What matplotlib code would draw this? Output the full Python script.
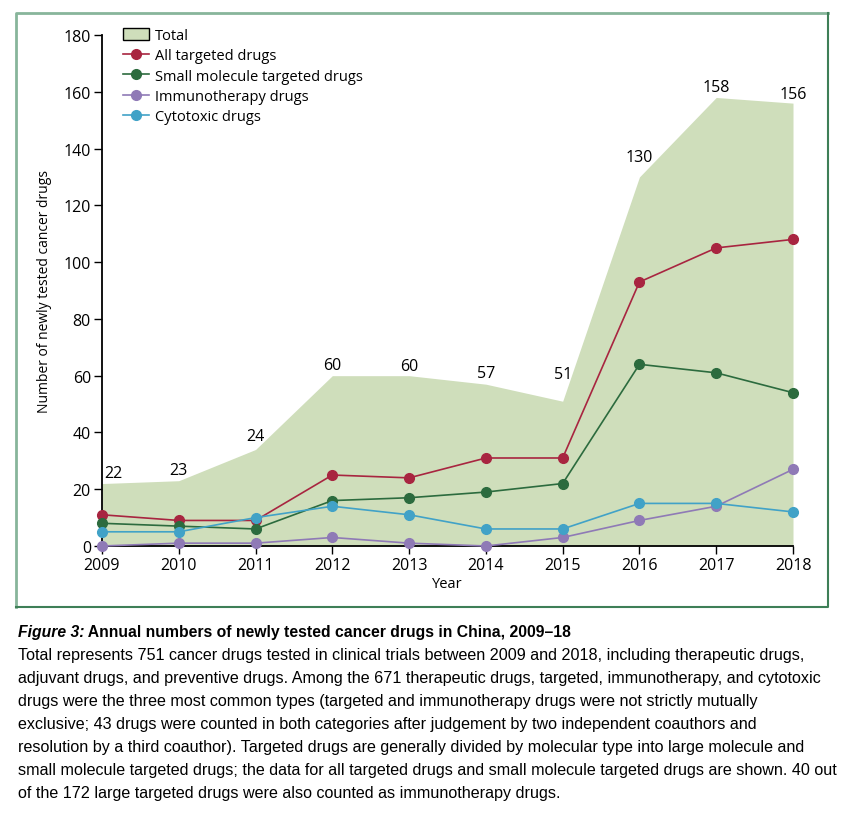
import matplotlib.pyplot as plt
from matplotlib.lines import Line2D
from matplotlib.patches import Patch

years = [2009, 2010, 2011, 2012, 2013, 2014, 2015, 2016, 2017, 2018]
total = [22, 23, 34, 60, 60, 57, 51, 130, 158, 156]
total_labels = ["22", "23", "24", "60", "60", "57", "51", "130", "158", "156"]
all_targeted = [11, 9, 9, 25, 24, 31, 31, 93, 105, 108]
small_molecule = [8, 7, 6, 16, 17, 19, 22, 64, 61, 54]
immunotherapy = [0, 1, 1, 3, 1, 0, 3, 9, 14, 27]
cytotoxic = [5, 5, 10, 14, 11, 6, 6, 15, 15, 12]

# label centre offsets above the area (pixels)
label_dy = [11, 11, 13, 11, 10, 11, 27, 20, 10, 9]
label_dx = [11, 0, 0, 0, 0, 0, 0, 0, 0, 0]

c_area = "#cfdebb"
c_red = "#a82540"
c_green = "#2c6b3e"
c_purple = "#8f7ab6"
c_blue = "#41a2c7"

plt.rcParams['font.family'] = ['Open Sans', 'DejaVu Sans']

fig = plt.figure(figsize=(8.54, 8.28), dpi=100)
ax = fig.add_axes([102 / 854, 1 - 547 / 828, (793 - 102) / 854, (547 - 36) / 828])

ax.fill_between(years, total, 0, color=c_area, lw=0)
series = [(all_targeted, c_red), (small_molecule, c_green),
          (immunotherapy, c_purple), (cytotoxic, c_blue)]
for vals, col in series:
    ax.plot(years, vals, color=col, lw=1.2, marker="o", ms=7, clip_on=False, zorder=3)

for x, y, t, dy, dx in zip(years, total, total_labels, label_dy, label_dx):
    ax.annotate(t, (x, y), xytext=(dx, dy), textcoords="offset pixels",
                ha="center", va="center", fontsize=11.5)

ax.set_xlim(2009, 2018)
ax.set_ylim(0, 180)
ax.set_xticks(years)
ax.set_yticks(range(0, 181, 20))
ax.tick_params(length=6, width=1, labelsize=11.5, pad=2)
for s in ["top", "right"]:
    ax.spines[s].set_visible(False)
ax.spines["left"].set_linewidth(1.3)
ax.spines["bottom"].set_linewidth(1.3)
ax.set_xlabel("Year", fontsize=10.5, labelpad=2)
ax.set_ylabel("Number of newly tested cancer drugs", fontsize=10, labelpad=8)

handles = [Patch(facecolor=c_area, edgecolor="black", lw=1, label="Total"),
           Line2D([], [], color=c_red, marker="o", ms=7, lw=1.2, label="All targeted drugs"),
           Line2D([], [], color=c_green, marker="o", ms=7, lw=1.2, label="Small molecule targeted drugs"),
           Line2D([], [], color=c_purple, marker="o", ms=7, lw=1.2, label="Immunotherapy drugs"),
           Line2D([], [], color=c_blue, marker="o", ms=7, lw=1.2, label="Cytotoxic drugs")]
ax.legend(handles=handles, loc="upper left", bbox_to_anchor=(0.022, 1.025), frameon=False,
          fontsize=10.5, handlelength=1.8, handleheight=0.9, handletextpad=0.4,
          labelspacing=0.36, borderaxespad=0)

# frame around the chart panel
fx0, fx1 = 16 / 854, 828 / 854
fy0, fy1 = 1 - 608 / 828, 1 - 14 / 828
fig.add_artist(Line2D([fx0, fx0, fx1], [fy0, fy1, fy1], color="#88b59b", lw=2))
fig.add_artist(Line2D([fx0, fx1, fx1], [fy0, fy0, fy1], color="#3e7f57", lw=1.5))

# caption, sized to fit the reference line widths
cap_font = ['Liberation Sans', 'DejaVu Sans']
renderer = fig.canvas.get_renderer()
t1 = fig.text(18 / 854, 1 - 633 / 828, "Figure 3:", family=cap_font, style="italic",
              weight="bold", fontsize=12, va="center")
t2 = fig.text(0, 1 - 633 / 828, " Annual numbers of newly tested cancer drugs in China, 2009\u201318",
              family=cap_font, weight="bold", fontsize=12, va="center")
w = t1.get_window_extent(renderer).width + t2.get_window_extent(renderer).width
s = 12 * 548 / w
t1.set_fontsize(s)
t2.set_fontsize(s)
w1 = t1.get_window_extent(renderer).width
t2.set_x((18 + w1) / 854)

caption = [
    "Total represents 751 cancer drugs tested in clinical trials between 2009 and 2018, including therapeutic drugs,",
    "adjuvant drugs, and preventive drugs. Among the 671 therapeutic drugs, targeted, immunotherapy, and cytotoxic",
    "drugs were the three most common types (targeted and immunotherapy drugs were not strictly mutually",
    "exclusive; 43 drugs were counted in both categories after judgement by two independent coauthors and",
    "resolution by a third coauthor). Targeted drugs are generally divided by molecular type into large molecule and",
    "small molecule targeted drugs; the data for all targeted drugs and small molecule targeted drugs are shown. 40 out",
    "of the 172 large targeted drugs were also counted as immunotherapy drugs.",
]
texts = []
for i, line in enumerate(caption):
    texts.append(fig.text(18 / 854, 1 - (656 + 23 * i) / 828, line, family=cap_font,
                          fontsize=12, va="center"))
w = texts[0].get_window_extent(renderer).width
s = 12 * 785 / w
for t in texts:
    t.set_fontsize(s)

fig.savefig("out.png", dpi=100)
